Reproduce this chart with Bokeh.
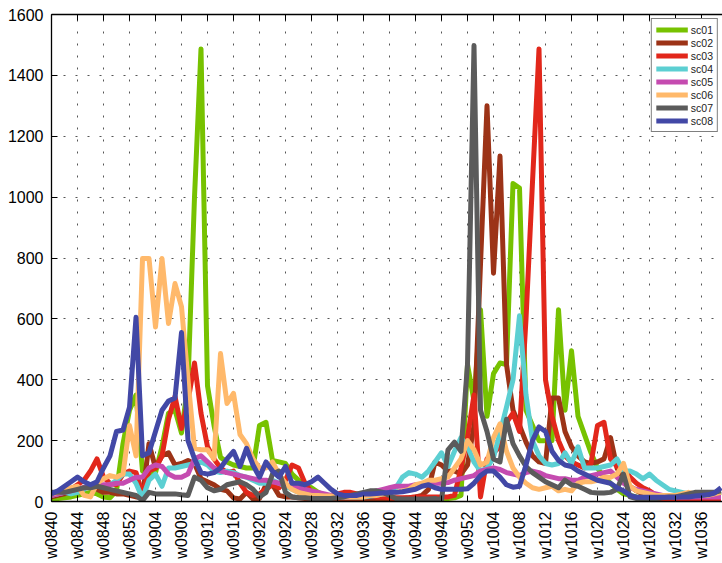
import math
from bokeh.plotting import figure
from bokeh.models import FixedTicker, LinearAxis, Legend, LegendItem, Range1d
from bokeh.embed import file_html
from bokeh.resources import INLINE

# week categories (2008 w40 .. 2010 w39)
weeks = ([f"w08{w:02d}" for w in range(40, 53)] +
         [f"w09{w:02d}" for w in range(1, 53)] +
         [f"w10{w:02d}" for w in range(1, 40)])

series_names = ["sc01", "sc02", "sc03", "sc04", "sc05", "sc06", "sc07", "sc08"]
colors = ["#77c200", "#9c3317", "#e2271b", "#5ccfd2", "#c54bb0", "#ffb96b", "#5b5b5b", "#4248a6"]

sc01 = [10, 10, 12, 15, 20, 25, 30, 25, 15, 12,
        35, 190, 300, 350, 100, 85, 95, 180, 290, 300,
        225, 390, 1000, 1487, 380, 250, 145, 130, 120, 115,
        110, 110, 250, 260, 135, 130, 125, 90, 70, 55,
        45, 30, 20, 15, 10, 10, 8, 8, 8, 8,
        8, 8, 8, 8, 8, 8, 10, 10, 10, 10,
        10, 10, 12, 20, 450, 330, 630, 280, 420, 455,
        450, 1045, 1030, 300, 250, 200, 200, 200, 630, 300,
        495, 280, 220, 160, 110, 80, 60, 40, 25, 20,
        15, 12, 10, 10, 10, 10, 10, 10, 10, 10,
        10, 10, 10, 10]
sc02 = [15, 20, 25, 30, 40, 45, 50, 40, 30, 30,
        25, 25, 20, 15, 15, 190, 110, 150, 160, 120,
        125, 135, 125, 75, 65, 55, 40, 35, 12, 8,
        30, 8, 10, 55, 55, 20, 15, 15, 12, 10,
        10, 10, 10, 10, 10, 10, 10, 10, 10, 10,
        10, 10, 10, 10, 10, 12, 15, 20, 40, 130,
        120, 100, 100, 90, 120, 250, 780, 1300, 750, 1135,
        450, 300, 250, 195, 150, 130, 125, 340, 340, 230,
        180, 150, 130, 125, 130, 140, 210, 110, 70, 50,
        35, 25, 15, 10, 10, 8, 8, 8, 8, 8,
        8, 8, 8, 8]
sc03 = [20, 25, 30, 40, 55, 70, 100, 140, 80, 60,
        55, 90, 100, 95, 25, 100, 110, 150, 270, 345,
        240, 330, 455, 290, 180, 140, 110, 95, 100, 60,
        30, 20, 25, 40, 55, 45, 70, 120, 110, 60,
        30, 25, 20, 20, 25, 30, 30, 25, 20, 20,
        15, 15, 12, 12, 12, 12, 15, 15, 15, 15,
        15, 15, 20, 110, 210, 350, 15, 140, 160, 180,
        260, 290, 230, 600, 1050, 1487, 400, 280, 200, 150,
        130, 120, 110, 125, 250, 260, 140, 115, 110, 80,
        60, 45, 35, 20, 10, 10, 10, 10, 10, 10,
        10, 10, 10, 10]
sc04 = [20, 25, 30, 25, 30, 40, 55, 60, 50, 55,
        70, 90, 90, 60, 10, 70, 90, 50, 110, 110,
        115, 120, 125, 130, 120, 100, 95, 100, 95, 85,
        80, 70, 60, 60, 70, 60, 50, 40, 30, 25,
        20, 18, 15, 15, 15, 15, 15, 15, 15, 18,
        20, 25, 30, 45, 80, 95, 90, 80, 100, 130,
        160, 115, 165, 210, 180, 130, 100, 110, 145, 225,
        310, 400, 610, 350, 200, 150, 125, 120, 125, 160,
        125, 180, 110, 110, 110, 115, 120, 140, 100, 100,
        90, 75, 90, 70, 55, 40, 35, 30, 25, 20,
        20, 20, 25, 30]
sc05 = [20, 25, 30, 35, 40, 45, 50, 50, 55, 55,
        60, 60, 70, 80, 80, 110, 120, 115, 90, 80,
        80, 90, 140, 150, 130, 110, 100, 95, 90, 85,
        80, 75, 70, 70, 65, 60, 55, 50, 45, 40,
        35, 30, 25, 20, 18, 15, 15, 20, 25, 30,
        35, 40, 45, 50, 50, 50, 55, 55, 58, 60,
        60, 62, 70, 75, 80, 85, 100, 105, 110, 105,
        95, 90, 85, 95, 100, 95, 85, 80, 75, 75,
        70, 70, 80, 85, 90, 95, 100, 80, 60, 45,
        40, 35, 30, 25, 20, 18, 15, 15, 15, 15,
        15, 15, 15, 15]
sc06 = [25, 30, 40, 45, 50, 20, 15, 60, 75, 85,
        80, 90, 250, 150, 798, 798, 573, 798, 585, 716,
        640, 400, 175, 170, 170, 140, 486, 322, 355, 220,
        190, 140, 110, 110, 130, 90, 60, 40, 30, 25,
        20, 20, 18, 18, 15, 15, 15, 15, 15, 20,
        20, 25, 25, 30, 35, 40, 55, 60, 70, 70,
        75, 80, 110, 140, 200, 170, 120, 130, 210, 255,
        165, 110, 80, 60, 45, 40, 45, 50, 35, 40,
        35, 60, 65, 65, 70, 80, 80, 90, 125, 50,
        35, 30, 25, 20, 20, 20, 20, 25, 30, 25,
        20, 20, 25, 30]
sc07 = [30, 30, 30, 35, 40, 45, 45, 50, 45, 40,
        35, 30, 25, 20, 3, 30, 25, 25, 25, 25,
        22, 20, 80, 70, 45, 35, 40, 55, 60, 65,
        55, 40, 15, 30, 90, 100, 30, 15, 12, 12,
        10, 10, 10, 10, 12, 15, 20, 25, 30, 35,
        35, 30, 20, 10, 8, 8, 8, 8, 8, 10,
        5, 170, 195, 165, 450, 1498, 300, 230, 140, 130,
        270, 190, 150, 115, 95, 80, 65, 55, 45, 70,
        55, 50, 40, 30, 28, 28, 30, 40, 90, 15,
        10, 10, 10, 10, 12, 15, 15, 20, 25, 30,
        30, 30, 30, 35]
sc08 = [25, 35, 50, 65, 80, 65, 55, 65, 110, 150,
        230, 235, 310, 605, 150, 160, 230, 300, 330, 340,
        555, 200, 140, 95, 90, 95, 110, 140, 165, 115,
        175, 120, 80, 130, 100, 80, 115, 60, 60, 55,
        65, 80, 60, 40, 25, 20, 20, 20, 25, 25,
        26, 28, 30, 30, 32, 36, 40, 50, 55, 45,
        40, 40, 40, 40, 42, 60, 85, 100, 100, 80,
        55, 47, 50, 120, 200, 245, 230, 165, 135, 120,
        115, 100, 90, 80, 70, 65, 60, 45, 35, 20,
        14, 14, 14, 14, 14, 14, 14, 15, 15, 18,
        20, 22, 28, 45]

all_series = [sc01, sc02, sc03, sc04, sc05, sc06, sc07, sc08]

y_ticks = list(range(0, 1601, 200))
x_ticks = list(range(0, len(weeks), 4))

FONT = "Liberation Sans"

p = figure(width=722, height=563, output_backend="svg", toolbar_location=None,
           x_range=Range1d(0, 103.23), y_range=Range1d(0, 1600),
           min_border_left=51, min_border_top=14, min_border_right=0,
           min_border_bottom=62, x_axis_location=None, y_axis_location=None)
p.outline_line_color = None
p.background_fill_color = "white"
p.border_fill_color = "white"

x = list(range(len(weeks)))
renderers = []
for name, vals, c in zip(series_names, all_series, colors):
    r = p.line(x, vals, line_color=c, line_width=5, line_join="round")
    renderers.append(r)

def style_axis(ax, show_labels=True):
    ax.axis_line_color = "black"
    ax.axis_line_width = 1.3
    ax.major_tick_in = 6
    ax.major_tick_out = 0
    ax.major_tick_line_color = "black"
    ax.major_tick_line_width = 1
    ax.minor_tick_line_color = None
    ax.major_label_text_font = FONT
    ax.major_label_text_color = "black"
    if show_labels:
        ax.major_label_text_font_size = "16px"
    else:
        ax.major_label_text_font_size = "0px"
        ax.major_label_standoff = 0

xb = LinearAxis(ticker=FixedTicker(ticks=x_ticks),
                major_label_overrides={i: weeks[i] for i in x_ticks})
style_axis(xb)
xb.major_label_orientation = math.pi / 2
xb.major_label_standoff = 10
p.add_layout(xb, "below")

xt = LinearAxis(ticker=FixedTicker(ticks=x_ticks),
                major_label_overrides={i: "" for i in x_ticks})
style_axis(xt, show_labels=False)
p.add_layout(xt, "above")

yl = LinearAxis(ticker=FixedTicker(ticks=y_ticks))
style_axis(yl)
yl.major_label_standoff = 8
p.add_layout(yl, "left")

p.xgrid.ticker = FixedTicker(ticks=x_ticks)
p.ygrid.ticker = FixedTicker(ticks=y_ticks)
for g in (p.xgrid, p.ygrid):
    g.grid_line_color = "#555555"
    g.grid_line_width = 1
    g.grid_line_dash = "2 10"

legend = Legend(items=[LegendItem(label=n, renderers=[r]) for n, r in zip(series_names, renderers)],
                location="top_right")
legend.border_line_color = "black"
legend.border_line_width = 1.5
legend.background_fill_color = "white"
legend.background_fill_alpha = 1
legend.label_text_font = FONT
legend.label_text_font_size = "10.5px"
legend.label_text_color = "#222222"
legend.glyph_width = 32
legend.glyph_height = 13
legend.label_height = 13
legend.label_standoff = 3
legend.spacing = 0
legend.padding = 4
legend.margin = 4
p.add_layout(legend)

open("out.html", "w").write(file_html(p, INLINE))
